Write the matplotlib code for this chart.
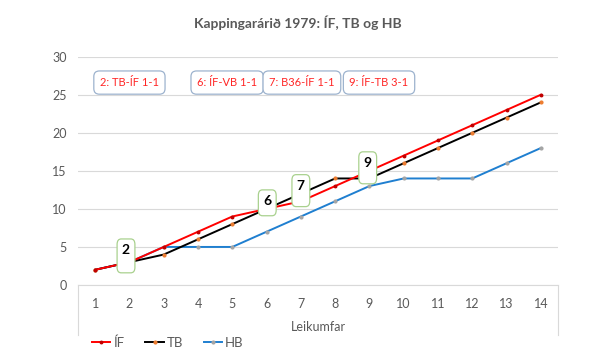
import numpy as np
import matplotlib
matplotlib.use("Agg")
import matplotlib.pyplot as plt
from matplotlib.patches import FancyBboxPatch

plt.rcParams['font.family'] = ['Lato', 'DejaVu Sans']

rounds = list(range(1, 15))
if_pts = [2, 3, 5, 7, 9, 10, 11, 13, 15, 17, 19, 21, 23, 25]
tb_pts = [2, 3, 4, 6, 8, 10, 12, 14, 14, 16, 18, 20, 22, 24]
hb_pts = [2, 3, 5, 5, 5, 7, 9, 11, 13, 14, 14, 14, 16, 18]

games = ["2: TB-ÍF 1-1", "6: ÍF-VB 1-1", "7: B36-ÍF 1-1", "9: ÍF-TB 3-1"]
game_x = [2.0, 4.85, 7.03, 9.28]
marks = ["2", "6", "7", "9"]
# x, bottom, top of the little green boxes
mark_box = [(1.9, 1.6, 6.05), (6.02, 9.1, 12.5), (7.0, 10.3, 14.5), (8.95, 13.3, 17.5)]

GRAY = "#595959"

fig = plt.figure(figsize=(6.02, 3.55), dpi=100)
ax = fig.add_axes([78 / 602, 1 - 285 / 355, 480 / 602, 228.3 / 355])

ax.plot(rounds, if_pts, color="#FF0000", lw=1.4, marker="o", ms=1.8,
        mfc="#C00000", mec="#C00000", label="ÍF", zorder=4)
ax.plot(rounds, tb_pts, color="#000000", lw=1.4, marker="o", ms=2.0,
        mfc="#ED7D31", mec="#ED7D31", label="TB", zorder=3)
ax.plot(rounds, hb_pts, color="#1F7FD0", lw=1.4, marker="o", ms=2.0,
        mfc="#A5A5A5", mec="#A5A5A5", label="HB", zorder=2)

ax.set_xlim(0.5, 14.5)
ax.set_ylim(0, 30)
ax.set_xticks(rounds)
ax.set_yticks(range(0, 31, 5))
ax.tick_params(length=0, labelsize=9, colors=GRAY, pad=9)
ax.tick_params(axis='y', pad=8)
ax.grid(axis='y', color="#D9D9D9", lw=0.8)
ax.set_axisbelow(True)
for s in ax.spines.values():
    s.set_visible(False)

# box around the category labels like in the excel chart
for xx in (0.5, 14.5):
    ax.plot([xx, xx], [0, -6.6], color="#D9D9D9", lw=0.8, clip_on=False)
ax.plot([0.5, 14.5], [0, 0], color="#D9D9D9", lw=0.8, clip_on=False)

ax.set_xlabel("Leikumfar", fontsize=9, color=GRAY, labelpad=8)

for txt, gx in zip(games, game_x):
    ax.text(gx, 26.6, txt, ha="center", va="center", fontsize=8, color="#FF2626",
            bbox=dict(boxstyle="round,pad=0.55,rounding_size=0.5", fc="white",
                      ec="#9DB3CE", lw=0.9))

for m, (bx, b0, b1) in zip(marks, mark_box):
    w = 0.26
    ax.add_patch(FancyBboxPatch((bx - w, b0), 2 * w, b1 - b0,
                                boxstyle="round,pad=0,rounding_size=0.12",
                                fc="white", ec="#A9D18E", lw=0.9, zorder=5,
                                mutation_aspect=6))
    ax.text(bx, b1 - 1.5, m, ha="center", va="center", fontsize=10,
            fontweight="bold", color="black", zorder=6)

fig.suptitle("Kappingarárið 1979: ÍF, TB og HB", x=0.495, y=1 - 23 / 355,
             va="center", fontsize=10, fontweight="bold", color=GRAY)

leg = ax.legend(loc="lower left", ncol=3, frameon=False,
                fontsize=9.5, handlelength=1.4, handletextpad=0.2,
                columnspacing=1.6, borderaxespad=0, borderpad=0)
for t in leg.get_texts():
    t.set_color(GRAY)
leg.set_bbox_to_anchor((92 / 602, 1 - 349 / 355), transform=fig.transFigure)

fig.savefig("out.png", dpi=100)
